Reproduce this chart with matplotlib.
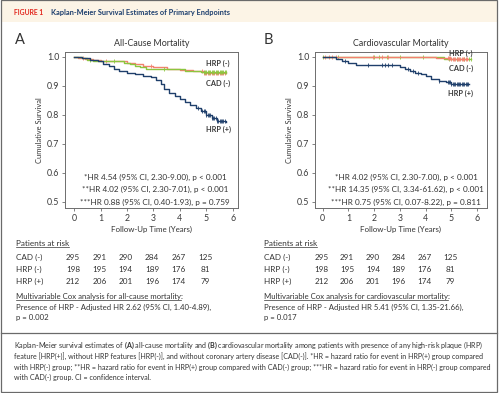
import numpy as np
import matplotlib.pyplot as plt
from matplotlib.lines import Line2D
from matplotlib.patches import Rectangle
from matplotlib.ticker import FormatStrFormatter
import matplotlib.transforms as mtransforms

plt.rcParams['font.family'] = ['Lato', 'DejaVu Sans']
plt.rcParams['mathtext.fontset'] = 'custom'
plt.rcParams['mathtext.rm'] = 'Lato'
plt.rcParams['mathtext.bf'] = 'Lato:bold'

# --- colours ---
C_CAD = '#f3816f'
C_HRPN = '#8cc63f'
C_HRPP = '#1f3f6b'
TXT = '#333333'

# --- A: all-cause mortality (KM step data) ---
A_cad_t = [0, 0.15, 0.4, 0.7, 1.0, 2.0, 2.3, 2.6, 3.0, 3.5, 4.0, 4.5, 4.9, 5.3, 5.75]
A_cad_s = [1.0, 0.997, 0.993, 0.99, 0.986, 0.98, 0.975, 0.97, 0.965, 0.96, 0.955, 0.95, 0.946, 0.943, 0.943]
A_cad_cens = [0.35, 1.2, 2.9, 4.85, 4.9, 4.95, 5.0, 5.05, 5.1, 5.15, 5.2, 5.25, 5.3, 5.35, 5.4, 5.45, 5.5, 5.55, 5.6, 5.65, 5.7]

A_hrpn_t = [0, 0.3, 0.5, 0.7, 1.9, 2.1, 2.3, 2.5, 2.7, 4.2, 4.8, 5.2, 5.75]
A_hrpn_s = [1.0, 0.995, 0.99, 0.985, 0.98, 0.975, 0.97, 0.965, 0.957, 0.953, 0.949, 0.947, 0.947]
A_hrpn_cens = [0.6, 1.5, 3.4, 4.9, 4.95, 5.0, 5.05, 5.1, 5.15, 5.2, 5.25, 5.3, 5.35, 5.4, 5.45, 5.5, 5.55, 5.6, 5.65, 5.7, 5.75]

A_hrpp_t = [0, 0.3, 0.6, 0.9, 1.1, 1.3, 1.5, 1.7, 2.0, 2.3, 2.6, 2.9, 3.1, 3.3, 3.4, 3.6, 3.8,
            4.0, 4.2, 4.4, 4.6, 4.8, 5.0, 5.2, 5.4, 5.75]
A_hrpp_s = [1.0, 0.995, 0.99, 0.985, 0.975, 0.968, 0.96, 0.95, 0.945, 0.94, 0.935, 0.93, 0.92,
            0.905, 0.89, 0.875, 0.865, 0.855, 0.845, 0.835, 0.825, 0.815, 0.80, 0.79, 0.78, 0.775]
A_hrpp_cens = [4.7, 4.85, 4.9, 4.95, 5.0, 5.05, 5.1, 5.15, 5.2, 5.25, 5.3, 5.35, 5.4, 5.45, 5.5, 5.55, 5.6, 5.65, 5.7]

# --- B: cardiovascular mortality ---
B_cad_t = [0, 4.4, 5.0, 5.65]
B_cad_s = [1.0, 0.997, 0.994, 0.994]
B_cad_cens = [0.1, 0.25, 0.35, 0.5, 1.95, 2.3, 2.55, 4.85, 4.9, 4.95, 5.0, 5.05, 5.1, 5.15, 5.2,
              5.25, 5.3, 5.35, 5.4, 5.45, 5.5, 5.55, 5.6]

B_hrpn_t = [0, 4.7, 5.75]
B_hrpn_s = [1.0, 0.993, 0.993]
B_hrpn_cens = [0.0, 0.6, 2.0, 2.2, 2.5, 3.0, 3.9, 4.9, 5.2, 5.5, 5.7, 5.75]

B_hrpp_t = [0, 0.5, 0.75, 1.0, 1.3, 3.0, 3.2, 3.4, 3.6, 3.8, 4.0, 4.2, 4.5, 4.8, 5.0, 5.7]
B_hrpp_s = [1.0, 0.993, 0.987, 0.98, 0.973, 0.965, 0.957, 0.952, 0.945, 0.94, 0.933, 0.925,
            0.918, 0.912, 0.905, 0.905]
B_hrpp_cens = [0.85, 1.75, 2.3, 2.4, 2.55, 2.7, 3.3, 3.5, 3.7, 4.5, 4.85, 4.9, 4.95, 5.0, 5.05,
               5.1, 5.15, 5.2, 5.25, 5.3, 5.35, 5.4, 5.45, 5.5, 5.55, 5.6, 5.65]

hr_A = ['*HR 4.54 (95% CI, 2.30-9.00), p < 0.001',
        '**HR 4.02 (95% CI, 2.30-7.01), p < 0.001',
        '***HR 0.88 (95% CI, 0.40-1.93), p = 0.759']
hr_B = ['*HR 4.02 (95% CI, 2.30-7.00), p < 0.001',
        '**HR 14.35 (95% CI, 3.34-61.62), p < 0.001',
        '***HR 0.75 (95% CI, 0.07-8.22), p = 0.811']

risk_groups = ['CAD (-)', 'HRP (-)', 'HRP (+)']
risk_A = [[295, 291, 290, 284, 267, 125],
          [198, 195, 194, 189, 176, 81],
          [212, 206, 201, 196, 174, 79]]
risk_B = [[295, 291, 290, 284, 267, 125],
          [198, 195, 194, 189, 176, 81],
          [212, 206, 201, 196, 174, 79]]

cox_A = ['Multivariable Cox analysis for all-cause mortality',
         'Presence of HRP - Adjusted HR 2.62 (95% CI, 1.40-4.89),',
         'p = 0.002']
cox_B = ['Multivariable Cox analysis for cardiovascular mortality',
         'Presence of HRP - Adjusted HR 5.41 (95% CI, 1.35-21.66),',
         'p = 0.017']

caption = [r'Kaplan-Meier survival estimates of $\mathbf{(A)}$ all-cause mortality and $\mathbf{(B)}$ cardiovascular mortality among patients with presence of any high-risk plaque (HRP)',
           'feature [HRP(+)], without HRP features [HRP(-)], and without coronary artery disease [CAD(-)]. *HR = hazard ratio for event in HRP(+) group compared',
           'with HRP(-) group; **HR = hazard ratio for event in HRP(+) group compared with CAD(-) group; ***HR = hazard ratio for event in HRP(-) group compared',
           'with CAD(-) group. CI = confidence interval.']

W, H = 500, 393
fig = plt.figure(figsize=(5, 3.93), dpi=100)


def fx(px):
    return px / W


def fy(py):
    return 1 - py / H


# --- frame / header ---
fig.add_artist(Rectangle((fx(1), fy(22)), fx(497) - fx(1), 22 / H, transform=fig.transFigure,
                         facecolor='#fcf4e6', edgecolor='none'))
fig.add_artist(Rectangle((fx(1), fy(392)), fx(497) - fx(1), 392 / H, transform=fig.transFigure,
                         facecolor='none', edgecolor='#6a6a6a', lw=0.9))
fig.add_artist(Line2D([fx(1), fx(497)], [fy(333), fy(333)], transform=fig.transFigure,
                      color='#6a6a6a', lw=0.9))
fig.text(fx(14), fy(12.5), 'FIGURE 1', color='#e2231a', fontsize=4.9, weight='bold', va='center')
fig.text(fx(51), fy(12.5), 'Kaplan-Meier Survival Estimates of Primary Endpoints', color='#1b3d6d',
         fontsize=5.3, weight='bold', va='center')


def km(ax, t, s, cens, color):
    ax.step(t, s, where='post', color=color, lw=1.0)
    idx = np.searchsorted(t, cens, side='right') - 1
    ax.plot(cens, np.array(s)[idx], ls='none', marker='|', ms=2.6, mew=0.6, color=color)


def style(ax, xlim, title):
    ax.set_xlim(*xlim)
    ax.set_ylim(0.479, 1.017)
    ax.set_xticks(range(7))
    ax.set_yticks([0.5, 0.6, 0.7, 0.8, 0.9, 1.0])
    ax.yaxis.set_major_formatter(FormatStrFormatter('%.1f'))
    for sp in ax.spines.values():
        sp.set_color('#6d6d6d')
        sp.set_linewidth(0.7)
    ax.tick_params(length=2.5, width=0.6, color='#6d6d6d', labelsize=6.3, labelcolor='#3a3a3a', pad=1.5)
    ax.set_xlabel('Follow-Up Time (Years)', fontsize=5.7, color=TXT, labelpad=2)
    ax.set_ylabel('Cumulative Survival', fontsize=5.4, color=TXT, labelpad=3)
    ax.set_title(title, fontsize=6.4, color=TXT, pad=4)


axA = fig.add_axes([fx(65), fy(208), fx(238) - fx(65), (208 - 52) / H])
axB = fig.add_axes([fx(315), fy(208), fx(487) - fx(315), (208 - 52) / H])

km(axA, A_cad_t, A_cad_s, A_cad_cens, C_CAD)
km(axA, A_hrpn_t, A_hrpn_s, A_hrpn_cens, C_HRPN)
km(axA, A_hrpp_t, A_hrpp_s, A_hrpp_cens, C_HRPP)
style(axA, (-0.35, 6.2), 'All-Cause Mortality')

km(axB, B_hrpn_t, B_hrpn_s, B_hrpn_cens, C_HRPN)
km(axB, B_cad_t, B_cad_s, B_cad_cens, C_CAD)
km(axB, B_hrpp_t, B_hrpp_s, B_hrpp_cens, C_HRPP)
style(axB, (-0.3, 6.38), 'Cardiovascular Mortality')

# panel letters
fig.text(fx(15), fy(40), 'A', fontsize=10.5, color=TXT, va='center')
fig.text(fx(264), fy(40), 'B', fontsize=10.5, color=TXT, va='center')

# curve labels
for x0, labs in [(218, [('HRP (-)', 63), ('CAD (-)', 83), ('HRP (+)', 129)]),
                 (461, [('HRP (-)', 53), ('CAD (-)', 68), ('HRP (+)', 93)])]:
    for lab, yy in labs:
        fig.text(fx(x0), fy(yy), lab, fontsize=5.3, weight='bold', color='#3a3a3a', ha='center', va='center')

# HR annotations
for x0, lines in [(155, hr_A), (406, hr_B)]:
    for line, yy in zip(lines, [177, 189.5, 202]):
        fig.text(fx(x0), fy(yy), line, fontsize=5.9, color=TXT, ha='center', va='center')

renderer = fig.canvas.get_renderer()


def underline(txt):
    bb = txt.get_window_extent(renderer=renderer)
    fig.add_artist(Line2D([bb.x0 / fig.bbox.width, bb.x1 / fig.bbox.width],
                          [(bb.y0 - 0.2) / fig.bbox.height] * 2,
                          transform=fig.transFigure, color=TXT, lw=0.5))
    return bb


# at-risk tables and Cox text
for ax, x0, risk, cox in [(axA, 16, risk_A, cox_A), (axB, 264, risk_B, cox_B)]:
    t = fig.text(fx(x0), fy(243.5), 'Patients at risk', fontsize=5.9, color=TXT, va='center')
    underline(t)
    trans = mtransforms.blended_transform_factory(ax.transData, fig.transFigure)
    for g, row, yy in zip(risk_groups, risk, [257.5, 269.5, 281.5]):
        fig.text(fx(x0), fy(yy), g, fontsize=5.9, color=TXT, va='center')
        for i, v in enumerate(row):
            fig.text(i - 0.05, fy(yy), str(v), fontsize=5.9, color=TXT, ha='center', va='center',
                     transform=trans)
    t = fig.text(fx(x0), fy(296.5), cox[0], fontsize=5.6, color=TXT, va='center')
    bb = underline(t)
    fig.text(bb.x1 / fig.bbox.width, fy(296.5), ':', fontsize=5.6, color=TXT, va='center')
    fig.text(fx(x0), fy(307), cox[1], fontsize=5.6, color=TXT, va='center')
    fig.text(fx(x0), fy(317.5), cox[2], fontsize=5.6, color=TXT, va='center')

# caption
for line, yy in zip(caption, [345, 356.5, 367.3, 377.8]):
    fig.text(fx(14), fy(yy), line, fontsize=5.1, color=TXT, va='center')

fig.savefig('out.png', dpi=100)
